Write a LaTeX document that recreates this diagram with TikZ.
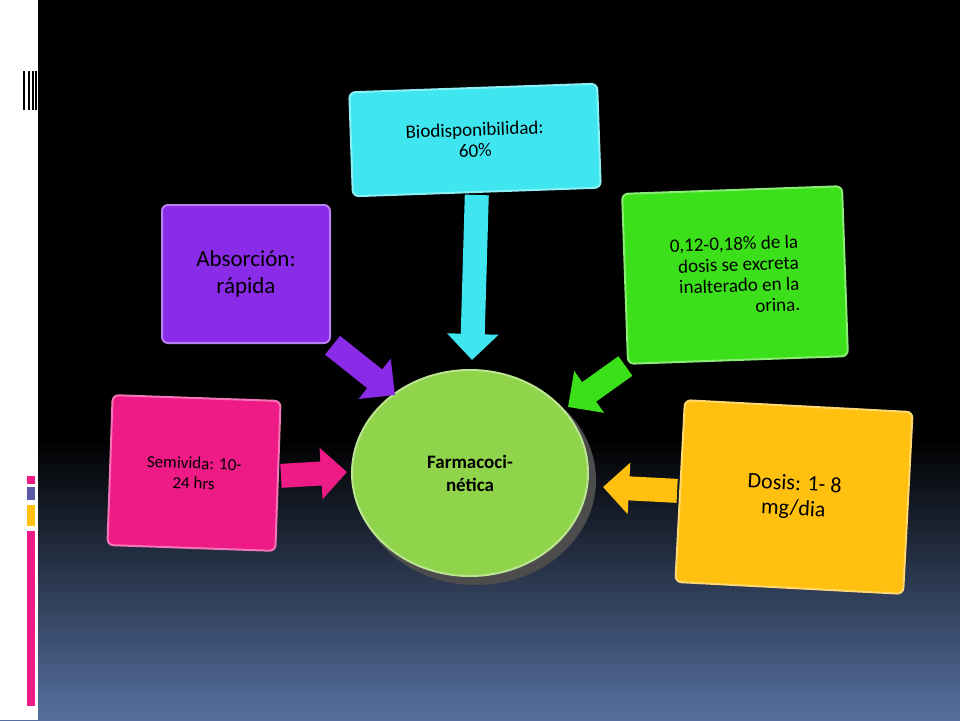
\documentclass[tikz,border=0pt]{standalone}
\usepackage{fontspec}
\setmainfont{Carlito}
\usetikzlibrary{arrows.meta,shapes.geometric}

\definecolor{cyanbox}{HTML}{3FE6F0}
\definecolor{purplebox}{HTML}{8A2BE8}
\definecolor{greenbox}{HTML}{3CE01A}
\definecolor{pinkbox}{HTML}{EE1A86}
\definecolor{orangebox}{HTML}{FFC010}
\definecolor{hubgreen}{HTML}{8FD44A}
\definecolor{slate}{HTML}{56709F}

\tikzset{
  infobox/.style={draw=#1!60!white, line width=2pt, fill=#1, rounded corners=6pt,
    inner sep=0pt, align=center, font=\fontsize{19}{21}\selectfont},
  flow/.style={#1, line width=24pt, -{Triangle[length=26pt,width=50pt]}, shorten <=2pt}
}

\begin{document}
\begin{tikzpicture}[x=1pt, y=-1pt]
\useasboundingbox (0,0) rectangle (960,720);
% background
\fill[black] (0,0) rectangle (960,720);
\shade[top color=black, bottom color=slate] (0,440) rectangle (960,720);
\fill[white] (0,0) rectangle (38,720);
\foreach \x in {23,27.5,31.5,35} \fill[black] (\x,71) rectangle (\x+2,110);
\fill[pinkbox] (27,476) rectangle (35,484);
\fill[gray!70!blue] (27,487) rectangle (35,500);
\fill[orangebox] (27,505) rectangle (35,526);
\fill[pinkbox] (27,531) rectangle (35,706);

% boxes
\node[infobox=cyanbox, minimum width=248pt, minimum height=104pt, rotate=2] (bio) at (475,140)
  {Biodisponibilidad:\\60\%};
\node[infobox=purplebox, minimum width=168pt, minimum height=138pt, font=\fontsize{23}{27}\selectfont] (abs) at (246,274)
  {Absorción:\\rápida};
\node[infobox=greenbox, minimum width=220pt, minimum height=170pt, align=right, rotate=2] (exc) at (735,275)
  {0,12-0,18\% de la\\dosis se excreta\\inalterado en la\\orina.};
\node[infobox=pinkbox, minimum width=168pt, minimum height=150pt, font=\fontsize{17}{20}\selectfont, rotate=-2] (semi) at (194,473)
  {Semivida: 10-\\24 hrs};
\node[infobox=orangebox, minimum width=228pt, minimum height=182pt, font=\fontsize{22}{25}\selectfont, rotate=-3] (dos) at (794,497)
  {Dosis: 1- 8\\mg/dia};

% hub
\fill[black!70] (476,480) ellipse (120pt and 105pt);
\node[draw=hubgreen!60!white, line width=2pt, fill=hubgreen, ellipse, minimum width=236pt, minimum height=206pt,
  inner sep=0pt, align=center, font=\bfseries\fontsize{19}{23}\selectfont] (farm) at (470,473) {Farmacoci-\\nética};

% arrows
\coordinate (bioend) at (472,360);
\coordinate (absend) at (395,395);
\coordinate (excend) at (568,407);
\coordinate (semiend) at (347,472);
\coordinate (dosend) at (603,487);
\draw[flow=cyanbox] (bio.south) -- (bioend);
\draw[flow=purplebox] (abs.south east) -- (absend);
\draw[flow=greenbox] (exc.south west) -- (excend);
\draw[flow=pinkbox] (semi.east) -- (semiend);
\draw[flow=orangebox] (dos.west) -- (dosend);
\end{tikzpicture}
\end{document}
